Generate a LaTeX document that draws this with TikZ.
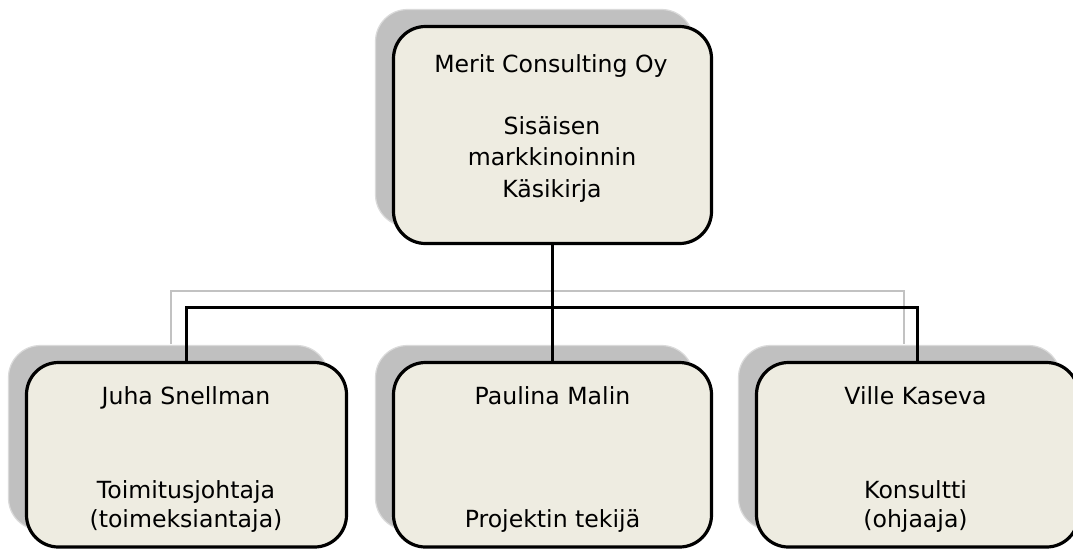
\documentclass[tikz,border=0pt]{standalone}
\usepackage{fontspec}
\setmainfont{DejaVu Sans}
\definecolor{boxfill}{HTML}{EEECE1}
\definecolor{shadowfill}{HTML}{C0C0C0}
\definecolor{shadowline}{HTML}{DADADA}
\definecolor{grayline}{HTML}{C2C2C2}
\pgfdeclarelayer{shadowlayer}
\pgfdeclarelayer{connlayer}
\pgfsetlayers{shadowlayer,connlayer,main}
\begin{document}
\begin{tikzpicture}[x=1pt,y=-1pt,
  card/.style={draw=black, line width=3.2pt, fill=boxfill, rounded corners=32pt, inner sep=0pt},
  shadowcard/.style={draw=shadowline, line width=1.2pt, fill=shadowfill, rounded corners=32pt, inner sep=0pt},
  topsize/.style={minimum width=318pt, minimum height=217pt},
  lowsize/.style={minimum width=#1, minimum height=184.5pt},
  conn/.style={draw=black, line width=3pt},
  grayconn/.style={draw=grayline, line width=2.8pt},
  txt/.style={anchor=base, inner sep=0pt, font=\fontsize{23.6pt}{31pt}\selectfont}]
\useasboundingbox (0,0) rectangle (1073,550);
\clip (0,0) rectangle (1073,550);

\begin{pgfonlayer}{shadowlayer}
\fill[white] (0,0) rectangle (1073,550);
% gray shadow connector
\coordinate (gA) at (171,344);
\coordinate (gB) at (904,344);
\coordinate (gbar) at (552,291);
\draw[grayconn] (gA) |- (gbar) -| (gB);
% shadows
\node[shadowcard, topsize] (topS) at (534.5,118) {};
\node[shadowcard, lowsize=320pt] (juhaS) at (168.5,437.75) {};
\node[shadowcard, lowsize=318pt] (midS) at (534.5,437.75) {};
\node[shadowcard, lowsize=322pt] (villeS) at (899.5,437.75) {};
\end{pgfonlayer}

% boxes
\node[card, topsize] (top) at (552.5,135) {};
\node[card, lowsize=320pt] (juha) at (186.5,454.75) {};
\node[card, lowsize=318pt] (mid) at (552.5,454.75) {};
\node[card, lowsize=322pt] (ville) at (917.5,454.75) {};

% black connectors
\begin{pgfonlayer}{connlayer}
\coordinate (bar) at (552.5,307);
\draw[conn] (juha.north) |- (bar) -| (ville.north);
\draw[conn] (top.south) -- (mid.north);
\end{pgfonlayer}

% texts
\node[txt] (t1) at (551,72) {Merit Consulting Oy};
\node[txt] (t2) at (552,134) {Sisäisen};
\node[txt] (t3) at (552,165.5) {markkinoinnin};
\node[txt] (t4) at (552,197) {Käsikirja};

\node[txt] (j1) at (186,404) {Juha Snellman};
\node[txt] (j2) at (186,498) {Toimitusjohtaja};
\node[txt] (j3) at (186,527) {(toimeksiantaja)};

\node[txt] (p1) at (552.5,404) {Paulina Malin};
\node[txt] (p2) at (552.5,527) {Projektin tekijä};

\node[txt] (v1) at (915.5,404) {Ville Kaseva};
\node[txt] (v2) at (915.5,498) {Konsultti};
\node[txt] (v3) at (915.5,527) {(ohjaaja)};
\end{tikzpicture}
\end{document}
